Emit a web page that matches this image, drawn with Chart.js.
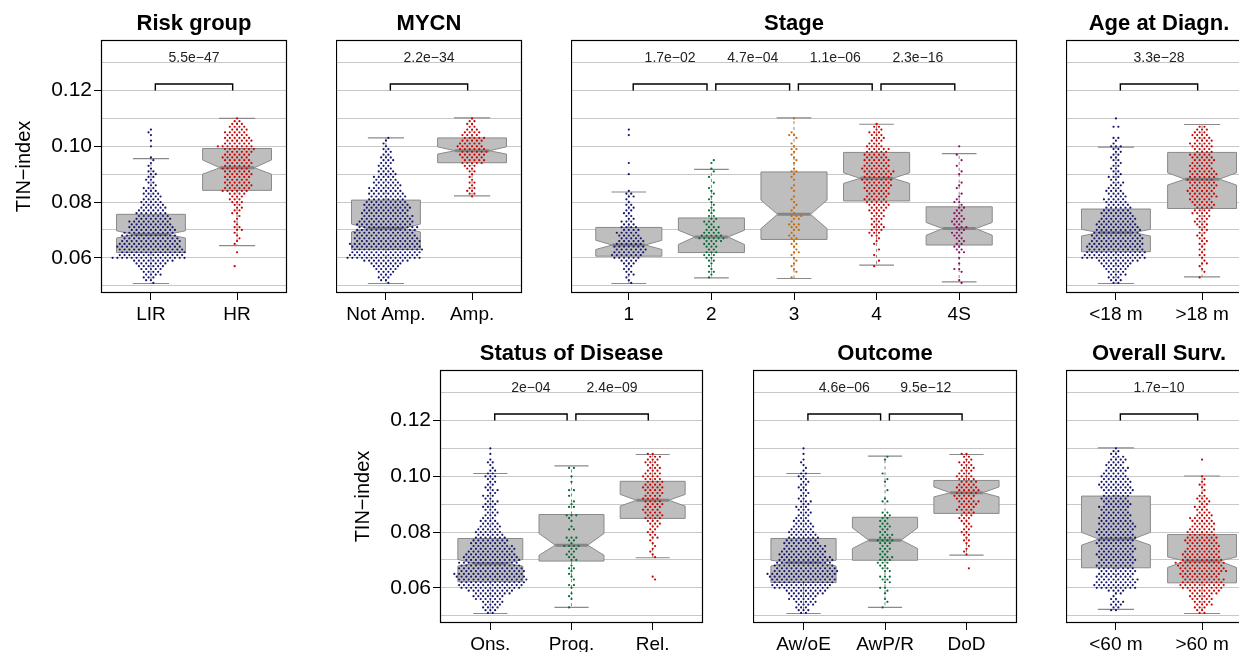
<!DOCTYPE html>
<html>
<head>
<meta charset="utf-8">
<script src="https://cdn.jsdelivr.net/npm/chart.js@4.4.1/dist/chart.umd.min.js"></script>
<style>
html, body { margin: 0; padding: 0; background: #fff; overflow: hidden; width: 1239px; height: 652px; }
canvas { position: absolute; }
</style>
</head>
<body>
<script>
// Swarm rows: entry i of a count array is the number of dots at 0.050 + 0.001 * i
const binStart = 0.050;
const binStep = 0.001;
const yMin = 0.0474;
const yMax = 0.1381;

// Box stats per group: [lower whisker, Q1, notch low, median, notch high, Q3, upper whisker]

// Risk group
const riskLabels = ['LIR', 'HR'];
const riskBoxes = [
    [0.0508, 0.0619, 0.0671, 0.0684, 0.0697, 0.0756, 0.0956],
    [0.0644, 0.0842, 0.0900, 0.0923, 0.0951, 0.0992, 0.1100]
];
const riskP = ['5.5e\u221247'];
const riskLIR = [0,1,2,3,4,4,5,6,7,9, 16,14,14,14,14,13,13,12,12,11, 10,10,9,9,8,7,7,6,6,5, 5,4,4,4,3,3,2,2,2,2, 2,2,1,1,1,1,1,0,0,0, 1,0,1,0,1,1,1,0,0,0, 0];
const riskHR = [0,0,0,0,0,0,0,1,0,0, 0,0,1,0,0,1,1,1,1,1, 2,2,1,1,1,1,2,2,2,2, 3,3,3,4,6,6,6,6,5,6, 6,6,6,6,6,6,6,6,6,7, 8,6,6,6,5,5,4,4,3,2, 1];

// MYCN
const mycnLabels = ['Not Amp.', 'Amp.'];
const mycnBoxes = [
    [0.0508, 0.0630, 0.0693, 0.0706, 0.0721, 0.0807, 0.1030],
    [0.0822, 0.0941, 0.0972, 0.0984, 0.0998, 0.1030, 0.1102]
];
const mycnP = ['2.2e\u221234'];
const mycnNotAmp = [0,1,2,3,3,4,5,6,7,10, 16,15,15,15,15,15,14,14,13,13, 13,13,12,12,11,11,10,10,10,10, 9,8,8,8,7,7,6,6,5,5, 4,4,3,3,3,3,3,2,2,2, 1,1,1,1,0,0,0,0,0,0, 0];
const mycnAmp = [0,0,0,0,0,0,0,0,0,0, 0,0,0,0,0,0,0,0,0,0, 0,0,0,0,0,0,0,0,0,0, 0,0,1,2,2,2,1,2,1,1, 1,2,2,3,5,5,5,6,6,6, 6,5,5,5,4,4,3,2,2,2, 1];

// Stage
const stageLabels = ['1', '2', '3', '4', '4S'];
const stageBoxes = [
    [0.0508, 0.0606, 0.0630, 0.0646, 0.0663, 0.0709, 0.0836],
    [0.0528, 0.0619, 0.0648, 0.0675, 0.0699, 0.0743, 0.0917],
    [0.0526, 0.0666, 0.0705, 0.0756, 0.0807, 0.0908, 0.1102],
    [0.0574, 0.0804, 0.0867, 0.0885, 0.0905, 0.0978, 0.1079],
    [0.0514, 0.0646, 0.0681, 0.0705, 0.0727, 0.0783, 0.0974]
];
const stageP = ['1.7e\u221202', '4.7e\u221204', '1.1e\u221206', '2.3e\u221216'];
const stage1 = [0,1,1,1,2,2,2,2,3,4, 6,7,7,7,7,6,6,5,5,5, 4,4,3,3,2,2,2,2,2,2, 1,1,2,2,1,0,0,0,0,0, 1,0,0,0,1,0,0,0,0,0, 0,0,0,0,1,0,1,0,0,0, 0];
const stage2 = [0,0,0,1,1,2,1,1,1,2, 2,3,3,2,3,3,4,6,5,4, 3,3,2,3,2,2,1,2,1,1, 1,1,1,1,1,1,0,1,0,1, 0,1,1,0,1,1,0,0,0,0, 0,0,0,0,0,0,0,0,0,0, 0];
const stage3 = [0,0,0,1,0,1,1,1,1,1, 1,1,2,1,1,2,1,2,2,1, 2,2,3,1,2,3,1,1,1,1, 1,1,1,0,1,1,1,0,1,1, 1,2,1,0,1,1,1,1,1,2, 1,1,0,1,2,1,0,0,0,0, 1];
const stage4 = [0,0,0,0,0,0,0,1,0,1, 0,1,0,1,0,1,1,1,2,3, 3,3,3,2,3,3,3,4,4,5, 5,5,5,5,5,6,6,6,7,6, 6,7,6,6,5,6,5,5,5,5, 4,3,3,3,3,3,2,2,1,0, 0];
const stage4S = [0,1,1,0,0,1,2,0,1,0, 1,0,2,2,2,2,2,2,2,3, 2,3,2,3,3,2,2,2,2,1, 2,1,1,1,0,1,1,1,0,0, 1,1,0,1,0,1,0,1,0,0, 1,0,0,0,0,0,0,0,0,0, 0];

// Age at diagnosis
const ageLabels = ['<18 m', '>18 m'];
const ageBoxes = [
    [0.0508, 0.0622, 0.0678, 0.0691, 0.0702, 0.0775, 0.0997],
    [0.0532, 0.0777, 0.0861, 0.0882, 0.0905, 0.0978, 0.1078]
];
const ageP = ['3.3e\u221228'];
const ageYoung = [0,2,3,3,4,4,5,6,7,9, 14,13,13,12,12,12,11,11,11,10, 10,9,9,8,8,7,7,6,6,5, 5,5,4,4,4,3,3,3,2,3, 2,2,2,2,2,2,2,2,2,2, 3,1,1,2,0,0,0,2,0,0, 1];
const ageOld = [0,0,0,1,0,1,1,1,2,1, 1,2,1,2,1,2,2,2,2,2, 2,2,3,3,3,3,4,4,4,5, 5,5,6,6,6,6,6,6,6,6, 6,6,5,5,5,5,5,5,4,4, 5,5,4,4,4,3,3,2,0,0, 0];

// Status of disease
const statusLabels = ['Ons.', 'Prog.', 'Rel.'];
const statusBoxes = [
    [0.0508, 0.0622, 0.0678, 0.0687, 0.0702, 0.0777, 0.1010],
    [0.0530, 0.0696, 0.0717, 0.0753, 0.0795, 0.0863, 0.1037],
    [0.0708, 0.0849, 0.0893, 0.0914, 0.0935, 0.0982, 0.1078]
];
const statusP = ['2e\u221204', '2.4e\u221209'];
const statusOns = [0,2,3,4,4,5,6,7,8,10, 13,14,14,15,15,15,14,14,13,13, 12,12,11,10,10,9,8,8,7,6, 6,5,5,4,4,3,3,3,3,3, 3,3,2,3,2,3,2,2,2,2, 3,2,2,1,1,2,1,0,1,0, 1];
const statusProg = [0,0,0,1,0,0,1,1,1,0, 1,2,0,1,1,1,1,2,1,0, 2,2,2,2,2,4,1,2,3,0, 0,2,1,0,1,1,3,0,0,2, 1,1,0,1,0,2,0,0,1,0, 1,0,0,2,0,0,0,0,0,0, 0];
const statusRel = [0,0,0,0,0,0,0,0,0,0, 0,0,0,1,1,0,0,0,0,0, 0,1,1,1,1,1,1,1,2,2, 2,2,2,3,3,4,4,4,4,4, 4,4,4,4,4,4,5,4,4,4, 4,4,3,3,3,3,3,3,2,0, 0];

// Outcome
const outcomeLabels = ['Aw/oE', 'AwP/R', 'DoD'];
const outcomeBoxes = [
    [0.0508, 0.0619, 0.0678, 0.0691, 0.0699, 0.0777, 0.1010],
    [0.0530, 0.0699, 0.0741, 0.0771, 0.0815, 0.0853, 0.1072],
    [0.0717, 0.0867, 0.0926, 0.0941, 0.0962, 0.0985, 0.1078]
];
const outcomeP = ['4.6e\u221206', '9.5e\u221212'];
const outcomeAwoE = [0,2,3,3,4,5,6,6,8,9, 12,13,13,14,14,15,14,13,13,12, 12,11,10,10,9,9,8,7,7,6, 6,5,5,4,4,3,3,3,3,3, 2,3,2,2,2,2,2,2,2,2, 2,2,1,1,1,1,1,0,1,0, 1];
const outcomeAwPR = [0,0,0,1,0,1,1,0,1,1, 2,0,2,2,3,0,2,2,2,3, 3,3,2,2,3,2,3,4,3,3, 2,2,3,2,2,2,2,2,0,0, 0,2,1,0,0,1,0,0,1,1, 0,1,0,0,0,0,1,1,0,0, 0];
const outcomeDoD = [0,0,0,0,0,0,0,0,0,0, 0,0,0,0,0,0,0,1,0,0, 0,0,1,1,1,1,1,2,1,2, 2,2,2,2,2,3,3,3,4,4, 4,5,4,5,5,5,5,4,4,4, 4,3,3,3,3,3,2,2,2,0, 0];

// Overall survival
const survLabels = ['<60 m', '>60 m'];
const survBoxes = [
    [0.0523, 0.0672, 0.0753, 0.0775, 0.0799, 0.0929, 0.1102],
    [0.0508, 0.0618, 0.0673, 0.0696, 0.0711, 0.0791, 0.1001]
];
const survP = ['1.7e\u221210'];
const survShort = [0,0,2,2,3,3,2,1,2,4, 9,9,9,9,8,8,8,8,8,8, 8,8,8,8,8,8,8,8,8,8, 8,8,8,8,7,7,7,6,6,7, 6,6,6,6,6,7,7,7,7,6, 6,5,5,5,4,4,4,3,2,2, 1];
const survLong = [0,2,2,3,4,4,5,5,6,7, 9,10,9,9,8,9,10,10,10,11, 9,8,8,8,7,7,7,7,7,6, 6,6,5,5,5,5,4,3,3,3, 2,3,3,2,1,1,1,2,1,1, 1,0,0,0,0,0,1,0,0,0, 0];

// Look
const FONT = "'Liberation Sans', Arial, Helvetica, sans-serif";
const NAVY = '#13136e';
const RED = '#cc0000';
const GREEN = '#006b32';
const ORANGE = '#cd6600';
const PURPLE = '#8b0a63';
const BOX_FILL = '#bebebe';
const BOX_EDGE = '#8a8a8a';
const GRID = '#c8c8c8';
const DOT_GAP = 4.8;     // px between dots in one swarm row
const TITLE_H = 40;
const PANEL_H = 253;
const XAXIS_H = 36;
const YAXIS_W = 101;

const panels = [
    { title: 'Risk group', labels: riskLabels, boxes: riskBoxes, pvals: riskP,
      counts: [riskLIR, riskHR], colors: [NAVY, RED], left: 101, top: 40, width: 186, yAxis: true },
    { title: 'MYCN', labels: mycnLabels, boxes: mycnBoxes, pvals: mycnP,
      counts: [mycnNotAmp, mycnAmp], colors: [NAVY, RED], left: 336, top: 40, width: 186, yAxis: false },
    { title: 'Stage', labels: stageLabels, boxes: stageBoxes, pvals: stageP,
      counts: [stage1, stage2, stage3, stage4, stage4S], colors: [NAVY, GREEN, ORANGE, RED, PURPLE],
      left: 571, top: 40, width: 446, yAxis: false },
    { title: 'Age at Diagn.', labels: ageLabels, boxes: ageBoxes, pvals: ageP,
      counts: [ageYoung, ageOld], colors: [NAVY, RED], left: 1066, top: 40, width: 186, yAxis: false },
    { title: 'Status of Disease', labels: statusLabels, boxes: statusBoxes, pvals: statusP,
      counts: [statusOns, statusProg, statusRel], colors: [NAVY, GREEN, RED], left: 440, top: 370, width: 263, yAxis: true },
    { title: 'Outcome', labels: outcomeLabels, boxes: outcomeBoxes, pvals: outcomeP,
      counts: [outcomeAwoE, outcomeAwPR, outcomeDoD], colors: [NAVY, GREEN, RED], left: 753, top: 370, width: 264, yAxis: false },
    { title: 'Overall Surv.', labels: survLabels, boxes: survBoxes, pvals: survP,
      counts: [survShort, survLong], colors: [NAVY, RED], left: 1066, top: 370, width: 186, yAxis: false }
];

function isLabeled(v) {
    return Math.round(v * 100) % 2 === 0;
}

// lay the dots of each row side by side around the group position,
// alternate rows on a half-step lattice so the swarm packs like a honeycomb
function swarm(pos, counts, pxPerUnit) {
    const pts = [];
    counts.forEach((n, i) => {
        const y = binStart + i * binStep;
        const natural = n % 2 === 1 ? 0 : 1;
        const shift = natural === i % 2 ? 0 : (i % 4 < 2 ? 0.5 : -0.5);
        for (let j = 0; j < n; j++) {
            const off = (j - (n - 1) / 2 + shift) * DOT_GAP;
            pts.push({ x: pos + off / pxPerUnit, y: y });
        }
    });
    return pts;
}

function drawBoxes(chart, p) {
    const { ctx, scales: { x, y } } = chart;
    const X = v => x.getPixelForValue(v);
    const Y = v => y.getPixelForValue(v);
    ctx.save();
    p.boxes.forEach((b, k) => {
        const [wlo, q1, nlo, med, nhi, q3, whi] = b;
        const c = k + 1;
        // whiskers
        ctx.strokeStyle = BOX_EDGE;
        ctx.lineWidth = 1;
        ctx.setLineDash([3, 3]);
        ctx.beginPath();
        ctx.moveTo(X(c), Y(q3)); ctx.lineTo(X(c), Y(whi));
        ctx.moveTo(X(c), Y(q1)); ctx.lineTo(X(c), Y(wlo));
        ctx.stroke();
        ctx.setLineDash([]);
        ctx.lineWidth = 1.2;
        ctx.beginPath();
        ctx.moveTo(X(c - 0.21), Y(whi)); ctx.lineTo(X(c + 0.21), Y(whi));
        ctx.moveTo(X(c - 0.21), Y(wlo)); ctx.lineTo(X(c + 0.21), Y(wlo));
        ctx.stroke();
        // notched box
        ctx.beginPath();
        ctx.moveTo(X(c - 0.4), Y(q1));
        ctx.lineTo(X(c - 0.4), Y(nlo));
        ctx.lineTo(X(c - 0.2), Y(med));
        ctx.lineTo(X(c - 0.4), Y(nhi));
        ctx.lineTo(X(c - 0.4), Y(q3));
        ctx.lineTo(X(c + 0.4), Y(q3));
        ctx.lineTo(X(c + 0.4), Y(nhi));
        ctx.lineTo(X(c + 0.2), Y(med));
        ctx.lineTo(X(c + 0.4), Y(nlo));
        ctx.lineTo(X(c + 0.4), Y(q1));
        ctx.closePath();
        ctx.fillStyle = BOX_FILL;
        ctx.fill();
        ctx.strokeStyle = BOX_EDGE;
        ctx.lineWidth = 1;
        ctx.stroke();
        // median
        ctx.lineWidth = 3;
        ctx.strokeStyle = '#858585';
        ctx.beginPath();
        ctx.moveTo(X(c - 0.2), Y(med)); ctx.lineTo(X(c + 0.2), Y(med));
        ctx.stroke();
    });
    // brackets with p-values between neighbouring groups
    const gap = 4.4 / (chart.chartArea.width / (x.max - x.min));
    ctx.strokeStyle = '#000';
    ctx.lineWidth = 1.4;
    ctx.fillStyle = '#222';
    ctx.font = '14px ' + FONT;
    ctx.textAlign = 'center';
    ctx.textBaseline = 'middle';
    p.pvals.forEach((txt, k) => {
        const a = k + 1 + gap, b = k + 2 - gap;
        ctx.beginPath();
        ctx.moveTo(X(a), Y(0.1200));
        ctx.lineTo(X(a), Y(0.1223));
        ctx.lineTo(X(b), Y(0.1223));
        ctx.lineTo(X(b), Y(0.1200));
        ctx.stroke();
        ctx.fillText(txt, X(k + 1.5), Y(0.1315));
    });
    ctx.restore();
}

function drawFrame(chart) {
    const { ctx, chartArea: a } = chart;
    ctx.save();
    ctx.strokeStyle = '#000';
    ctx.lineWidth = 1.2;
    ctx.strokeRect(a.left + 0.5, a.top + 0.5, a.right - a.left - 1, a.bottom - a.top - 1);
    ctx.restore();
}

panels.forEach(p => {
    const axisW = p.yAxis ? YAXIS_W : 0;
    const cv = document.createElement('canvas');
    cv.width = axisW + p.width + 2;
    cv.height = TITLE_H + PANEL_H + XAXIS_H;
    cv.style.left = (p.left - axisW) + 'px';
    cv.style.top = (p.top - TITLE_H) + 'px';
    document.body.appendChild(cv);

    const n = p.labels.length;
    const xMin = 0.5 - 0.04 * n;
    const xMax = n + 0.5 + 0.04 * n;
    const pxPerUnit = p.width / (xMax - xMin);

    new Chart(cv, {
        type: 'scatter',
        data: {
            datasets: p.counts.map((cnt, k) => ({
                data: swarm(k + 1, cnt, pxPerUnit),
                backgroundColor: p.colors[k],
                borderWidth: 0,
                pointRadius: 1.1,
                pointHoverRadius: 1.1
            }))
        },
        options: {
            responsive: false,
            animation: false,
            events: [],
            layout: { autoPadding: false, padding: { left: 0, right: 2, top: 0, bottom: 0 } },
            plugins: {
                legend: { display: false },
                tooltip: { enabled: false },
                title: {
                    display: true,
                    text: p.title,
                    fullSize: false,
                    color: '#000',
                    font: { family: FONT, size: 22, weight: 'bold' },
                    padding: { top: 11, bottom: 2.6 }
                }
            },
            scales: {
                x: {
                    type: 'linear',
                    min: xMin,
                    max: xMax,
                    afterFit: s => { s.height = XAXIS_H; },
                    border: { display: false },
                    grid: { drawOnChartArea: false, drawTicks: true, tickLength: 7, tickColor: '#000', tickWidth: 1 },
                    ticks: {
                        stepSize: 1,
                        includeBounds: false,
                        autoSkip: false,
                        maxRotation: 0,
                        padding: 3,
                        color: '#000',
                        font: { family: FONT, size: 19 },
                        callback: v => p.labels[Math.round(v) - 1] ?? ''
                    }
                },
                y: {
                    type: 'linear',
                    min: yMin,
                    max: yMax,
                    afterFit: s => { s.width = axisW; },
                    border: { display: false },
                    grid: {
                        color: GRID,
                        lineWidth: 1,
                        drawTicks: p.yAxis,
                        tickLength: 7,
                        tickColor: c => (c.tick && isLabeled(c.tick.value)) ? '#000' : 'rgba(0,0,0,0)'
                    },
                    ticks: {
                        display: p.yAxis,
                        stepSize: 0.01,
                        includeBounds: false,
                        autoSkip: false,
                        padding: 2,
                        color: '#000',
                        font: { family: FONT, size: 21 },
                        callback: v => isLabeled(v) ? v.toFixed(2) : ''
                    },
                    title: {
                        display: p.yAxis,
                        text: 'TIN\u2212index',
                        color: '#000',
                        font: { family: FONT, size: 20 },
                        padding: { top: 12, bottom: 0 }
                    }
                }
            }
        },
        plugins: [{
            id: 'boxes',
            beforeDatasetsDraw: chart => drawBoxes(chart, p),
            afterDraw: chart => drawFrame(chart)
        }]
    });
});
</script>
</body>
</html>
